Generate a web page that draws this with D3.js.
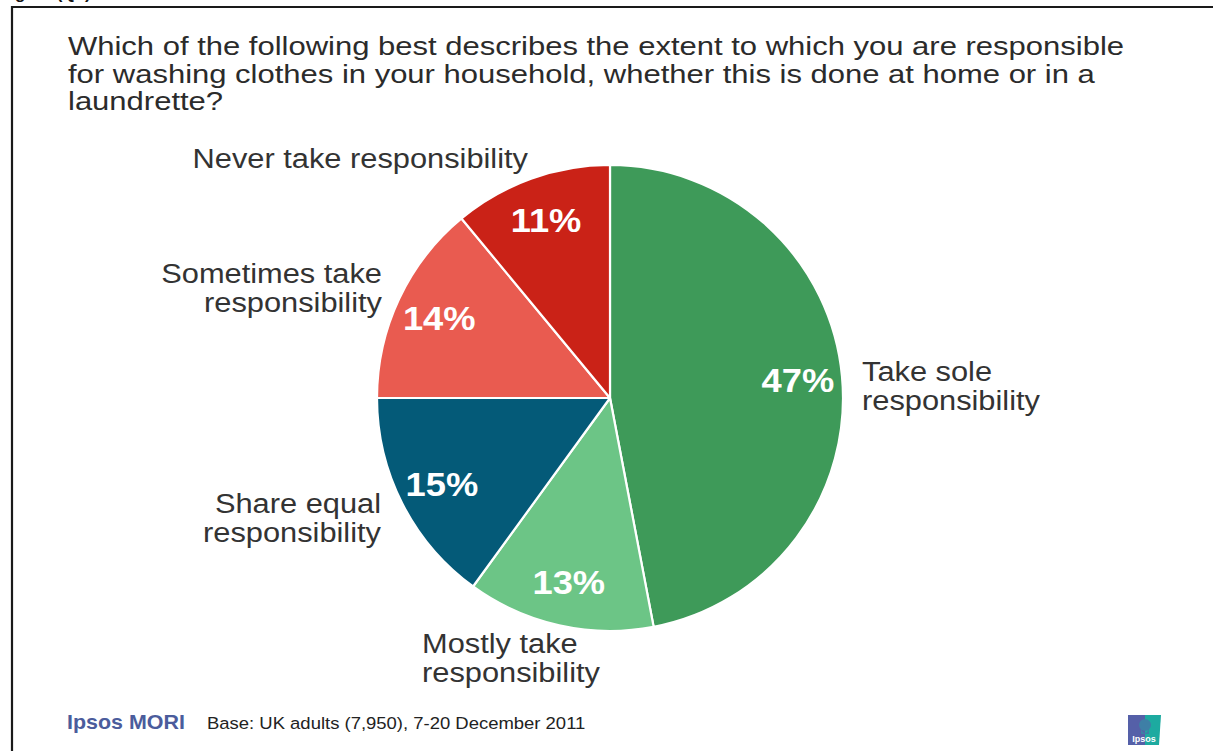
<!DOCTYPE html>
<html>
<head>
<meta charset="utf-8">
<script src="https://cdn.jsdelivr.net/npm/d3@7"></script>
<style>
  html, body { margin: 0; padding: 0; background: #ffffff; }
  svg { display: block; font-family: "Liberation Sans", Arial, sans-serif; }
</style>
</head>
<body>
<svg id="chart" width="1213" height="751"></svg>
<script>
// Survey answers, clockwise from 12 o'clock
const categories = [
  "Take sole responsibility",
  "Mostly take responsibility",
  "Share equal responsibility",
  "Sometimes take responsibility",
  "Never take responsibility"
];
const values = [47, 13, 15, 14, 11];
const colors = ["#3E9A59", "#6CC586", "#045A78", "#E95B50", "#CA2217"];

// Category labels as they are broken onto lines
const labelLines = [
  ["Take sole", "responsibility"],
  ["Mostly take", "responsibility"],
  ["Share equal", "responsibility"],
  ["Sometimes take", "responsibility"],
  ["Never take responsibility"]
];

const titleLines = [
  "Which of the following best describes the extent to which you are responsible",
  "for washing clothes in your household, whether this is done at home or in a",
  "laundrette?"
];
const footerBrand = "Ipsos MORI";
const footerNote = "Base: UK adults (7,950), 7-20 December 2011";

const svg = d3.select("#chart");
const SX = 1.1; // slide text is slightly wide

function stretchedText(parent, x, y, txt, opts) {
  const t = parent.append("text")
    .attr("transform", `translate(${x},${y}) scale(${opts.sx || SX},1)`)
    .attr("text-anchor", opts.anchor || "start")
    .attr("font-size", opts.size)
    .attr("font-weight", opts.weight || "normal")
    .attr("fill", opts.fill || "#333333")
    .text(txt);
  if (opts.dy) t.attr("dy", opts.dy);
  return t;
}

// Heading above the frame, running off the top edge
svg.append("text")
  .attr("x", 0).attr("y", -1)
  .attr("font-size", 17).attr("font-weight", "bold")
  .attr("fill", "#111")
  .text("Figure (Q1)");

// Slide frame
svg.append("path")
  .attr("d", "M12,751 V7 H1213")
  .attr("fill", "none")
  .attr("stroke", "#1a1a1a")
  .attr("stroke-width", 2.2);

// Question text
titleLines.forEach((line, i) => {
  stretchedText(svg, 68, 55 + i * 27.5, line, { size: 26.5, sx: 1.17, fill: "#2b2b2b" });
});

// Pie
const cx = 610, cy = 398, R = 233;
const pie = d3.pie().sort(null).value(d => d)
  .startAngle(0).endAngle(2 * Math.PI);
const arcs = pie(values);
const arc = d3.arc().innerRadius(0).outerRadius(R);
const labelArc = d3.arc().innerRadius(R * 0.81).outerRadius(R * 0.81);

const g = svg.append("g").attr("transform", `translate(${cx},${cy})`);
g.selectAll("path.slice")
  .data(arcs)
  .join("path")
  .attr("class", "slice")
  .attr("d", arc)
  .attr("fill", (d, i) => colors[i])
  .attr("stroke", "#ffffff")
  .attr("stroke-width", 2.2)
  .attr("stroke-linejoin", "round");

// Percentage labels inside slices
arcs.forEach((d, i) => {
  const [lx, ly] = labelArc.centroid(d);
  stretchedText(g, lx, ly, values[i] + "%", {
    size: 33, weight: "bold", fill: "#ffffff", anchor: "middle", dy: "0.36em"
  });
});

// Category labels outside the pie: [x, first baseline, anchor]
const labelPos = [
  [862, 381, "start"],
  [422, 653, "start"],
  [381, 513, "end"],
  [382, 283, "end"],
  [528, 168, "end"]
];
labelLines.forEach((lines, i) => {
  const [x, y, anchor] = labelPos[i];
  lines.forEach((line, j) => {
    stretchedText(svg, x, y + j * 29, line, { size: 28, fill: "#333333", anchor });
  });
});

// Footer
stretchedText(svg, 67, 729, footerBrand, { size: 19.5, weight: "bold", fill: "#4B5C9C" });
stretchedText(svg, 207, 729, footerNote, { size: 16.8, fill: "#222222" });

// Small Ipsos badge
const logo = svg.append("g").attr("transform", "translate(1128,715)");
logo.append("path").attr("d", "M0,0 H17 V30 H0 Z").attr("fill", "#5560A8");
logo.append("path").attr("d", "M17,0 H33 L31,30 H17 Z").attr("fill", "#1DAAA0");
logo.append("circle").attr("cx", 17).attr("cy", 10).attr("r", 6).attr("fill", "#3E7FA6");
logo.append("path").attr("d", "M13,14 Q17,22 21,14 V19 H13 Z").attr("fill", "#3E7FA6");
logo.append("text").attr("x", 16).attr("y", 27).attr("text-anchor", "middle")
  .attr("font-size", 9).attr("font-weight", "bold").attr("fill", "#ffffff").text("Ipsos");
</script>
</body>
</html>
